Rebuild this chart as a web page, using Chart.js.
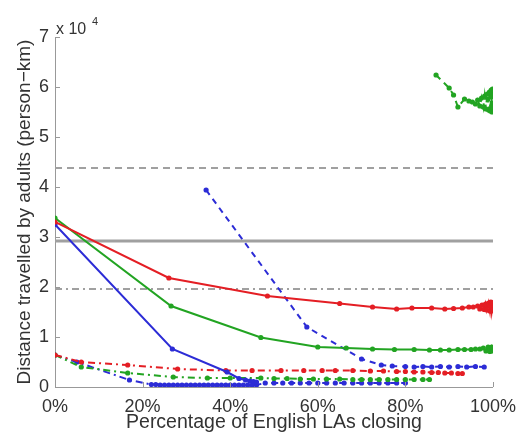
<!DOCTYPE html>
<html>
<head>
<meta charset="utf-8">
<script src="https://cdn.jsdelivr.net/npm/chart.js@4"></script>
<style>
  html, body { margin: 0; padding: 0; background: #fff; }
  #wrap { width: 525px; height: 435px; }
</style>
</head>
<body>
<div id="wrap"><canvas id="myChart" width="525" height="435"></canvas></div>
<script>
// values, x in % of LAs closing, y in units of 10^4 person-km
var xTicks = [0, 20, 40, 60, 80, 100];
var yTicks = [0, 1, 2, 3, 4, 5, 6, 7];

var xRedSolid = [0, 26, 48.5, 65, 72.5, 78, 81.5, 86, 89, 91, 93, 94.5, 95.5, 96.5, 97, 97.5, 98, 98.3, 98.6, 99, 99.3, 99.5, 99.7, 99.9, 100];
var yRedSolid = [3.3, 2.18, 1.82, 1.67, 1.6, 1.56, 1.58, 1.58, 1.56, 1.57, 1.58, 1.6, 1.6, 1.62, 1.56, 1.64, 1.55, 1.66, 1.54, 1.68, 1.52, 1.7, 1.52, 1.68, 1.55];

var xGreenSolid = [0, 26.5, 47, 60, 66.5, 72.5, 77.5, 82, 85.5, 88, 90, 92, 93.5, 95, 96, 97, 97.8, 98.4, 98.9, 99.3, 99.7, 100];
var yGreenSolid = [3.38, 1.62, 0.99, 0.8, 0.78, 0.76, 0.75, 0.75, 0.74, 0.74, 0.74, 0.75, 0.75, 0.75, 0.76, 0.76, 0.78, 0.72, 0.8, 0.71, 0.8, 0.72];

var xBlueSolid = [0, 26.8, 39.3, 42, 43.5, 44.5, 45.3, 46];
var yBlueSolid = [3.25, 0.76, 0.3, 0.17, 0.14, 0.12, 0.11, 0.1];

var xGreenDash = [87, 90, 91, 92, 93.5, 94.5, 95.3, 96, 96.5, 97, 97.4, 97.8, 98.1, 98.4, 98.7, 99, 99.2, 99.4, 99.6, 99.8, 99.9, 100];
var yGreenDash = [6.24, 5.98, 5.84, 5.6, 5.76, 5.72, 5.7, 5.66, 5.74, 5.62, 5.78, 5.6, 5.82, 5.56, 5.86, 5.54, 5.9, 5.52, 5.94, 5.5, 5.96, 5.6];

var xBlueDash = [34.5, 57.5, 70, 74.5, 77, 80, 82, 84, 86, 88, 90, 92, 94, 96, 98];
var yBlueDash = [3.94, 1.2, 0.56, 0.44, 0.42, 0.41, 0.4, 0.41, 0.4, 0.41, 0.4, 0.41, 0.4, 0.41, 0.4];

var xRedDashDot = [0, 6, 16.6, 28, 39, 45, 51.6, 56.8, 61, 64, 68, 72, 75, 78, 80, 82, 84, 86, 87.5, 89, 90.5, 92, 93];
var yRedDashDot = [0.64, 0.5, 0.44, 0.36, 0.33, 0.33, 0.33, 0.33, 0.33, 0.33, 0.33, 0.32, 0.32, 0.31, 0.31, 0.3, 0.3, 0.29, 0.29, 0.28, 0.28, 0.27, 0.27];

var xGreenDashDot = [0, 6, 16.6, 27, 34.8, 40, 47, 50, 53, 56, 59, 62, 65, 68, 70, 72, 74, 76, 78, 80, 82, 84, 85.5];
var yGreenDashDot = [0.64, 0.4, 0.28, 0.2, 0.18, 0.18, 0.18, 0.17, 0.17, 0.16, 0.16, 0.16, 0.16, 0.15, 0.15, 0.15, 0.15, 0.15, 0.15, 0.15, 0.15, 0.15, 0.15];

var xBlueDashDot = [0, 5, 17, 22, 23, 24, 25, 26, 27, 28, 29, 30, 31, 32, 33, 34, 35, 36, 37, 38, 39, 40, 41, 42, 43, 44, 45, 46, 48, 50, 52, 54, 56, 58, 60, 62, 64, 66, 68, 70, 72, 74, 76, 78, 80];
var yBlueDashDot = [0.64, 0.5, 0.14, 0.05, 0.05, 0.04, 0.04, 0.04, 0.04, 0.04, 0.04, 0.04, 0.04, 0.04, 0.04, 0.04, 0.04, 0.04, 0.04, 0.04, 0.04, 0.04, 0.04, 0.04, 0.04, 0.04, 0.04, 0.04, 0.08, 0.08, 0.08, 0.08, 0.08, 0.08, 0.08, 0.08, 0.08, 0.08, 0.08, 0.08, 0.08, 0.08, 0.08, 0.08, 0.08];

// grey reference levels: solid, dashed, dash-dot
var refX = [0, 100];
var refSolid = [2.92, 2.92];
var refDashed = [4.38, 4.38];
var refDashDot = [1.96, 1.96];

var red = 'rgb(228, 30, 36)';
var green = 'rgb(34, 164, 34)';
var blue = 'rgb(44, 44, 214)';
var grey = 'rgb(160, 160, 160)';

function pts(xs, ys) {
    return xs.map(function (x, i) { return { x: x, y: ys[i] }; });
}

function series(xs, ys, color, dash, order) {
    return {
        data: pts(xs, ys),
        borderColor: color,
        backgroundColor: color,
        borderWidth: 2,
        borderDash: dash,
        pointRadius: 2.6,
        pointBorderWidth: 0,
        tension: 0,
        order: order
    };
}

function refLine(ys, dash, width) {
    return {
        data: pts(refX, ys),
        borderColor: grey,
        borderWidth: width,
        borderDash: dash,
        pointRadius: 0,
        order: 20
    };
}

// MATLAB style inward ticks and the "x 10^4" multiplier
var matlabBits = {
    id: 'matlabBits',
    afterDraw: function (chart) {
        var c = chart.ctx, a = chart.chartArea;
        var xs = chart.scales.x, ys = chart.scales.y;
        c.save();
        c.strokeStyle = '#999';
        c.lineWidth = 1;
        c.beginPath();
        xTicks.forEach(function (t) {
            var px = Math.round(xs.getPixelForValue(t)) + 0.5;
            c.moveTo(px, a.bottom);
            c.lineTo(px, a.bottom - 5);
        });
        yTicks.forEach(function (t) {
            var py = Math.round(ys.getPixelForValue(t)) + 0.5;
            c.moveTo(a.left, py);
            c.lineTo(a.left + 5, py);
        });
        c.stroke();
        c.fillStyle = '#333';
        c.textBaseline = 'alphabetic';
        c.font = '16px "Liberation Sans", Arial, sans-serif';
        c.fillText('x 10', a.left + 1, a.top - 3);
        c.font = '11px "Liberation Sans", Arial, sans-serif';
        c.fillText('4', a.left + 37, a.top - 12);
        c.restore();
    }
};

var ctx = document.getElementById('myChart').getContext('2d');
var myChart = new Chart(ctx, {
    type: 'line',
    data: {
        datasets: [
            refLine(refSolid, [], 3),
            refLine(refDashed, [7, 5], 2),
            refLine(refDashDot, [7, 4, 2, 4], 2),
            series(xRedSolid, yRedSolid, red, [], 1),
            series(xGreenSolid, yGreenSolid, green, [], 2),
            series(xBlueSolid, yBlueSolid, blue, [], 3),
            series(xGreenDash, yGreenDash, green, [6, 5], 4),
            series(xBlueDash, yBlueDash, blue, [6, 5], 5),
            series(xRedDashDot, yRedDashDot, red, [7, 4, 2, 4], 6),
            series(xGreenDashDot, yGreenDashDot, green, [7, 4, 2, 4], 7),
            series(xBlueDashDot, yBlueDashDot, blue, [7, 4, 2, 4], 8)
        ]
    },
    options: {
        responsive: false,
        animation: false,
        layout: { padding: { left: 0, right: 30, top: 37, bottom: 0 } },
        plugins: {
            legend: { display: false },
            tooltip: { enabled: false }
        },
        scales: {
            x: {
                type: 'linear',
                min: 0,
                max: 100,
                afterFit: function (s) { s.height = 48; },
                afterBuildTicks: function (s) { s.ticks = xTicks.map(function (v) { return { value: v }; }); },
                grid: { display: false, drawTicks: false },
                border: { display: true, color: '#999', width: 1 },
                ticks: {
                    padding: 9,
                    color: '#333',
                    font: { family: '"Liberation Sans", Arial, sans-serif', size: 18 },
                    callback: function (v) { return v + '%'; }
                },
                title: {
                    display: true,
                    text: 'Percentage of English LAs closing',
                    color: '#333',
                    padding: { top: 0, bottom: 1 },
                    font: { family: '"Liberation Sans", Arial, sans-serif', size: 19.5 }
                }
            },
            y: {
                type: 'linear',
                min: 0,
                max: 7,
                afterFit: function (s) { s.width = 55; },
                afterBuildTicks: function (s) { s.ticks = yTicks.map(function (v) { return { value: v }; }); },
                grid: { display: false, drawTicks: false },
                border: { display: true, color: '#999', width: 1 },
                ticks: {
                    padding: 6,
                    color: '#333',
                    font: { family: '"Liberation Sans", Arial, sans-serif', size: 18 }
                },
                title: {
                    display: true,
                    text: 'Distance travelled by adults (person\u2212km)',
                    color: '#333',
                    padding: { top: 13, bottom: 0 },
                    font: { family: '"Liberation Sans", Arial, sans-serif', size: 19 }
                }
            }
        }
    },
    plugins: [matlabBits]
});
</script>
</body>
</html>
